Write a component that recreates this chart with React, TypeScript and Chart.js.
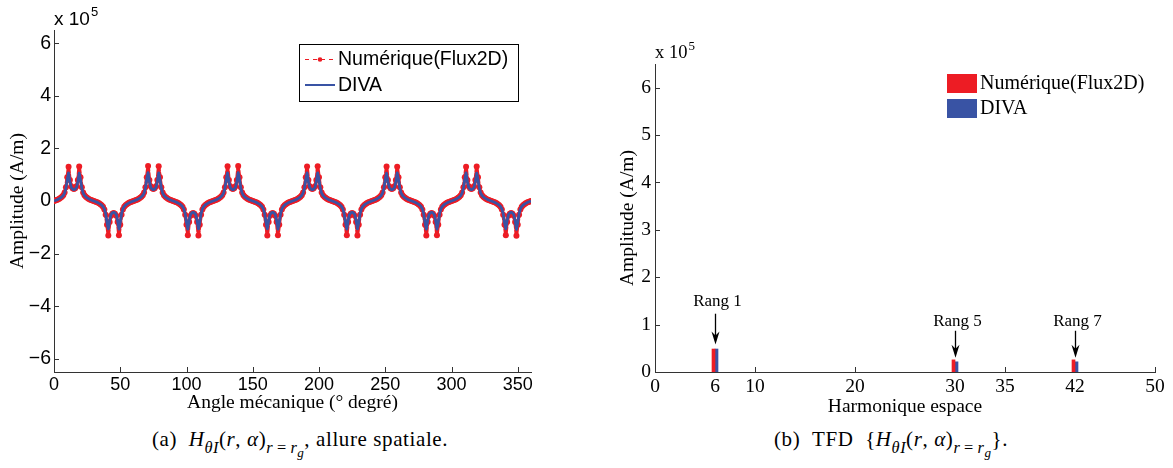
import React, { useEffect, useRef } from 'react';
import { Chart, registerables } from 'chart.js';

Chart.register(...registerables);

const RED = '#ED1C24';
const BLUE = '#3953A4';
const AXIS = '#333333';
const SANS = '"Liberation Sans", Arial, Helvetica, sans-serif';
const SERIF = '"Liberation Serif", "Times New Roman", Times, serif';

// ---------- (a) spatial waveform, amplitude in units of 1e5 A/m ----------
const angleDeg = Array.from({ length: 361 }, (_, i) => i);

const flux2dSpatial = [
  0.00, 0.02, 0.04, 0.06, 0.09, 0.12, 0.16, 0.22, 0.32, 0.52, 0.90, 1.30, 0.80, 0.56, 0.48, 0.46, 0.48, 0.56, 0.80, 1.31, 0.90, 0.52, 0.32, 0.22, 0.16, 0.12, 0.09, 0.06, 0.04, 0.02,
  0.00, -0.02, -0.04, -0.06, -0.09, -0.12, -0.16, -0.22, -0.32, -0.52, -0.90, -1.31, -0.80, -0.56, -0.48, -0.46, -0.48, -0.56, -0.80, -1.30, -0.90, -0.52, -0.32, -0.22, -0.16, -0.12, -0.09, -0.06, -0.04, -0.02,
  0.00, 0.02, 0.04, 0.06, 0.09, 0.12, 0.16, 0.22, 0.32, 0.52, 0.90, 1.33, 0.80, 0.56, 0.48, 0.46, 0.48, 0.56, 0.80, 1.32, 0.90, 0.52, 0.32, 0.22, 0.16, 0.12, 0.09, 0.06, 0.04, 0.02,
  0.00, -0.02, -0.04, -0.06, -0.09, -0.12, -0.16, -0.22, -0.32, -0.52, -0.90, -1.30, -0.80, -0.56, -0.48, -0.46, -0.48, -0.56, -0.80, -1.31, -0.90, -0.52, -0.32, -0.22, -0.16, -0.12, -0.09, -0.06, -0.04, -0.02,
  0.00, 0.02, 0.04, 0.06, 0.09, 0.12, 0.16, 0.22, 0.32, 0.52, 0.90, 1.32, 0.80, 0.56, 0.48, 0.46, 0.48, 0.56, 0.80, 1.33, 0.90, 0.52, 0.32, 0.22, 0.16, 0.12, 0.09, 0.06, 0.04, 0.02,
  0.00, -0.02, -0.04, -0.06, -0.09, -0.12, -0.16, -0.22, -0.32, -0.52, -0.90, -1.31, -0.80, -0.56, -0.48, -0.46, -0.48, -0.56, -0.80, -1.30, -0.90, -0.52, -0.32, -0.22, -0.16, -0.12, -0.09, -0.06, -0.04, -0.02,
  0.00, 0.02, 0.04, 0.06, 0.09, 0.12, 0.16, 0.22, 0.32, 0.52, 0.90, 1.31, 0.80, 0.56, 0.48, 0.46, 0.48, 0.56, 0.80, 1.32, 0.90, 0.52, 0.32, 0.22, 0.16, 0.12, 0.09, 0.06, 0.04, 0.02,
  0.00, -0.02, -0.04, -0.06, -0.09, -0.12, -0.16, -0.22, -0.32, -0.52, -0.90, -1.30, -0.80, -0.56, -0.48, -0.46, -0.48, -0.56, -0.80, -1.31, -0.90, -0.52, -0.32, -0.22, -0.16, -0.12, -0.09, -0.06, -0.04, -0.02,
  0.00, 0.02, 0.04, 0.06, 0.09, 0.12, 0.16, 0.22, 0.32, 0.52, 0.90, 1.31, 0.80, 0.56, 0.48, 0.46, 0.48, 0.56, 0.80, 1.30, 0.90, 0.52, 0.32, 0.22, 0.16, 0.12, 0.09, 0.06, 0.04, 0.02,
  0.00, -0.02, -0.04, -0.06, -0.09, -0.12, -0.16, -0.22, -0.32, -0.52, -0.90, -1.31, -0.80, -0.56, -0.48, -0.46, -0.48, -0.56, -0.80, -1.30, -0.90, -0.52, -0.32, -0.22, -0.16, -0.12, -0.09, -0.06, -0.04, -0.02,
  0.00, 0.02, 0.04, 0.06, 0.09, 0.12, 0.16, 0.22, 0.32, 0.52, 0.90, 1.30, 0.80, 0.56, 0.48, 0.46, 0.48, 0.56, 0.80, 1.31, 0.90, 0.52, 0.32, 0.22, 0.16, 0.12, 0.09, 0.06, 0.04, 0.02,
  0.00, -0.02, -0.04, -0.06, -0.09, -0.12, -0.16, -0.22, -0.32, -0.52, -0.90, -1.30, -0.80, -0.56, -0.48, -0.46, -0.48, -0.56, -0.80, -1.32, -0.90, -0.52, -0.32, -0.22, -0.16, -0.12, -0.09, -0.06, -0.04, -0.02,
  0.00,
];

const divaSpatial = [
  0.00, 0.02, 0.04, 0.06, 0.09, 0.12, 0.16, 0.21, 0.30, 0.48, 0.82, 1.07, 0.74, 0.52, 0.45, 0.43, 0.45, 0.52, 0.74, 1.06, 0.82, 0.48, 0.30, 0.21, 0.16, 0.12, 0.09, 0.06, 0.04, 0.02,
  0.00, -0.02, -0.04, -0.06, -0.09, -0.12, -0.16, -0.21, -0.30, -0.48, -0.82, -1.06, -0.74, -0.52, -0.45, -0.43, -0.45, -0.52, -0.74, -1.07, -0.82, -0.48, -0.30, -0.21, -0.16, -0.12, -0.09, -0.06, -0.04, -0.02,
  0.00, 0.02, 0.04, 0.06, 0.09, 0.12, 0.16, 0.21, 0.30, 0.48, 0.82, 1.08, 0.74, 0.52, 0.45, 0.43, 0.45, 0.52, 0.74, 1.07, 0.82, 0.48, 0.30, 0.21, 0.16, 0.12, 0.09, 0.06, 0.04, 0.02,
  0.00, -0.02, -0.04, -0.06, -0.09, -0.12, -0.16, -0.21, -0.30, -0.48, -0.82, -1.07, -0.74, -0.52, -0.45, -0.43, -0.45, -0.52, -0.74, -1.06, -0.82, -0.48, -0.30, -0.21, -0.16, -0.12, -0.09, -0.06, -0.04, -0.02,
  0.00, 0.02, 0.04, 0.06, 0.09, 0.12, 0.16, 0.21, 0.30, 0.48, 0.82, 1.07, 0.74, 0.52, 0.45, 0.43, 0.45, 0.52, 0.74, 1.08, 0.82, 0.48, 0.30, 0.21, 0.16, 0.12, 0.09, 0.06, 0.04, 0.02,
  0.00, -0.02, -0.04, -0.06, -0.09, -0.12, -0.16, -0.21, -0.30, -0.48, -0.82, -1.06, -0.74, -0.52, -0.45, -0.43, -0.45, -0.52, -0.74, -1.07, -0.82, -0.48, -0.30, -0.21, -0.16, -0.12, -0.09, -0.06, -0.04, -0.02,
  0.00, 0.02, 0.04, 0.06, 0.09, 0.12, 0.16, 0.21, 0.30, 0.48, 0.82, 1.07, 0.74, 0.52, 0.45, 0.43, 0.45, 0.52, 0.74, 1.07, 0.82, 0.48, 0.30, 0.21, 0.16, 0.12, 0.09, 0.06, 0.04, 0.02,
  0.00, -0.02, -0.04, -0.06, -0.09, -0.12, -0.16, -0.21, -0.30, -0.48, -0.82, -1.07, -0.74, -0.52, -0.45, -0.43, -0.45, -0.52, -0.74, -1.06, -0.82, -0.48, -0.30, -0.21, -0.16, -0.12, -0.09, -0.06, -0.04, -0.02,
  0.00, 0.02, 0.04, 0.06, 0.09, 0.12, 0.16, 0.21, 0.30, 0.48, 0.82, 1.06, 0.74, 0.52, 0.45, 0.43, 0.45, 0.52, 0.74, 1.07, 0.82, 0.48, 0.30, 0.21, 0.16, 0.12, 0.09, 0.06, 0.04, 0.02,
  0.00, -0.02, -0.04, -0.06, -0.09, -0.12, -0.16, -0.21, -0.30, -0.48, -0.82, -1.07, -0.74, -0.52, -0.45, -0.43, -0.45, -0.52, -0.74, -1.07, -0.82, -0.48, -0.30, -0.21, -0.16, -0.12, -0.09, -0.06, -0.04, -0.02,
  0.00, 0.02, 0.04, 0.06, 0.09, 0.12, 0.16, 0.21, 0.30, 0.48, 0.82, 1.07, 0.74, 0.52, 0.45, 0.43, 0.45, 0.52, 0.74, 1.06, 0.82, 0.48, 0.30, 0.21, 0.16, 0.12, 0.09, 0.06, 0.04, 0.02,
  0.00, -0.02, -0.04, -0.06, -0.09, -0.12, -0.16, -0.21, -0.30, -0.48, -0.82, -1.06, -0.74, -0.52, -0.45, -0.43, -0.45, -0.52, -0.74, -1.08, -0.82, -0.48, -0.30, -0.21, -0.16, -0.12, -0.09, -0.06, -0.04, -0.02,
  0.00,
];

const angleTicks = [0, 50, 100, 150, 200, 250, 300, 350];
const amplitudeTicksA = [-6, -4, -2, 0, 2, 4, 6];

// ---------- (b) DFT spectrum, amplitude in units of 1e5 A/m ----------
const harmonics = [6, 30, 42];
const flux2dDft = [0.485, 0.256, 0.256];
const divaDft = [0.485, 0.215, 0.215];
const harmonicTicks = [0, 6, 10, 20, 30, 35, 42, 50];
const amplitudeTicksB = [0, 1, 2, 3, 4, 5, 6];
const rangLabels = ['Rang 1', 'Rang 5', 'Rang 7'];
const rangTextLevel = [1.48, 1.06, 1.06];
const rangArrowFrom = [1.23, 0.87, 0.87];
const rangArrowTo = [0.58, 0.3, 0.3];

const seriesNames = ['Numérique(Flux2D)', 'DIVA'];

function fmtMinus(v: number): string {
  return v < 0 ? '\u2212' + Math.abs(v) : String(v);
}

function drawInwardTicks(chart: any, xTicks: number[], yTicks: number[], len: number) {
  const { ctx, chartArea, scales } = chart;
  ctx.save();
  ctx.strokeStyle = AXIS;
  ctx.lineWidth = 1;
  ctx.beginPath();
  for (const v of yTicks) {
    const y = Math.round(scales.y.getPixelForValue(v)) + 0.5;
    ctx.moveTo(chartArea.left, y);
    ctx.lineTo(chartArea.left + len, y);
  }
  for (const v of xTicks) {
    const x = Math.round(scales.x.getPixelForValue(v)) + 0.5;
    ctx.moveTo(x, chartArea.bottom);
    ctx.lineTo(x, chartArea.bottom - len);
  }
  ctx.stroke();
  ctx.restore();
}

function drawExponent(ctx: CanvasRenderingContext2D, x: number, y: number, family: string, size: number) {
  ctx.save();
  ctx.fillStyle = '#000';
  ctx.textBaseline = 'alphabetic';
  ctx.textAlign = 'left';
  ctx.font = `${size}px ${family}`;
  ctx.fillText('x 10', x, y);
  const w = ctx.measureText('x 10').width;
  ctx.font = `${Math.round(size * 0.68)}px ${family}`;
  ctx.fillText('5', x + w + 1, y - size * 0.45);
  ctx.restore();
}

function axisScale(extra: any) {
  return {
    border: { display: true, color: AXIS, width: 1 },
    grid: { display: false, drawTicks: false },
    ...extra,
  };
}

function SpatialChart() {
  const ref = useRef<HTMLCanvasElement | null>(null);
  useEffect(() => {
    if (!ref.current) return;
    const plugin = {
      id: 'decorA',
      beforeDatasetsDraw(chart: any) {
        drawInwardTicks(chart, angleTicks, amplitudeTicksA, 5);
      },
      afterDraw(chart: any) {
        const { ctx, chartArea } = chart;
        drawExponent(ctx, chartArea.left, chartArea.top - 5, SANS, 19);
        // legend box
        const bx = chartArea.left + 245;
        const by = chartArea.top + 14;
        ctx.save();
        ctx.fillStyle = '#fff';
        ctx.fillRect(bx, by, 219, 57);
        ctx.strokeStyle = '#000';
        ctx.lineWidth = 1;
        ctx.strokeRect(bx + 0.5, by + 0.5, 219, 57);
        // red sample
        ctx.strokeStyle = RED;
        ctx.lineWidth = 1;
        ctx.setLineDash([4, 4]);
        ctx.beginPath();
        ctx.moveTo(bx + 6, by + 15.5);
        ctx.lineTo(bx + 36, by + 15.5);
        ctx.stroke();
        ctx.setLineDash([]);
        ctx.fillStyle = RED;
        ctx.beginPath();
        ctx.arc(bx + 21, by + 15.5, 2.3, 0, Math.PI * 2);
        ctx.fill();
        // blue sample
        ctx.strokeStyle = BLUE;
        ctx.lineWidth = 2;
        ctx.beginPath();
        ctx.moveTo(bx + 6, by + 41);
        ctx.lineTo(bx + 36, by + 41);
        ctx.stroke();
        ctx.fillStyle = '#000';
        ctx.font = `19.5px ${SANS}`;
        ctx.textBaseline = 'middle';
        ctx.textAlign = 'left';
        ctx.fillText(seriesNames[0], bx + 39, by + 16);
        ctx.fillText(seriesNames[1], bx + 39, by + 42);
        ctx.restore();
      },
    };
    const chart = new Chart(ref.current, {
      type: 'line',
      data: {
        datasets: [
          {
            label: seriesNames[1],
            data: angleDeg.map((a, i) => ({ x: a, y: divaSpatial[i] })),
            borderColor: BLUE,
            backgroundColor: BLUE,
            borderWidth: 2.8,
            borderJoinStyle: 'round',
            pointRadius: 0,
            tension: 0,
            order: 0,
          },
          {
            label: seriesNames[0],
            data: angleDeg.map((a, i) => ({ x: a, y: flux2dSpatial[i] })),
            borderColor: RED,
            backgroundColor: RED,
            borderWidth: 3.5,
            borderDash: [6, 2],
            borderJoinStyle: 'round',
            borderCapStyle: 'round',
            pointRadius: 3,
            pointBorderWidth: 0,
            pointBackgroundColor: RED,
            tension: 0,
            order: 1,
          },
        ],
      },
      options: {
        responsive: false,
        animation: false,
        devicePixelRatio: 1,
        events: [],
        layout: { padding: { left: 0, top: 30, right: 29, bottom: 0 } },
        plugins: { legend: { display: false }, tooltip: { enabled: false } },
        scales: {
          x: axisScale({
            type: 'linear',
            min: 0,
            max: 360,
            afterBuildTicks: (s: any) => {
              s.ticks = angleTicks.map((v) => ({ value: v }));
            },
            afterFit: (s: any) => {
              s.height = 48;
            },
            ticks: { color: '#000', font: { family: SANS, size: 18 }, padding: 2, autoSkip: false, maxRotation: 0 },
            title: {
              display: true,
              text: 'Angle mécanique (° degré)',
              color: '#000',
              font: { family: SERIF, size: 19.5 },
              padding: { top: 0, bottom: 5 },
            },
          }),
          y: axisScale({
            type: 'linear',
            min: -6.5,
            max: 6.5,
            afterBuildTicks: (s: any) => {
              s.ticks = amplitudeTicksA.map((v) => ({ value: v }));
            },
            afterFit: (s: any) => {
              s.width = 54;
            },
            ticks: {
              color: '#000',
              font: { family: SANS, size: 19.5 },
              padding: 3,
              callback: (v: any) => fmtMinus(Number(v)),
            },
            title: {
              display: true,
              text: 'Amplitude (A/m)',
              color: '#000',
              font: { family: SERIF, size: 19.5 },
              padding: { top: 6, bottom: 0 },
            },
          }),
        },
      },
      plugins: [plugin],
    });
    return () => chart.destroy();
  }, []);
  return (
    <canvas
      ref={ref}
      width={560}
      height={420}
      style={{ position: 'absolute', left: 0, top: 0, width: 560, height: 420 }}
    />
  );
}

function SpectrumChart() {
  const ref = useRef<HTMLCanvasElement | null>(null);
  useEffect(() => {
    if (!ref.current) return;
    const plugin = {
      id: 'decorB',
      beforeDatasetsDraw(chart: any) {
        drawInwardTicks(chart, harmonicTicks, amplitudeTicksB, 5);
      },
      afterDraw(chart: any) {
        const { ctx, chartArea, scales } = chart;
        drawExponent(ctx, chartArea.left, chartArea.top - 6, SERIF, 18.5);
        ctx.save();
        // legend
        const lx = chartArea.left + 292;
        const ly = chartArea.top + 10;
        ctx.fillStyle = RED;
        ctx.fillRect(lx, ly, 30, 19);
        ctx.fillStyle = BLUE;
        ctx.fillRect(lx, ly + 25, 30, 19);
        ctx.fillStyle = '#000';
        ctx.font = `20px ${SERIF}`;
        ctx.textBaseline = 'middle';
        ctx.textAlign = 'left';
        ctx.fillText(seriesNames[0], lx + 33, ly + 10);
        ctx.fillText(seriesNames[1], lx + 33, ly + 35);
        // annotations
        ctx.strokeStyle = '#000';
        ctx.lineWidth = 1.3;
        ctx.font = `17px ${SERIF}`;
        ctx.textAlign = 'center';
        for (let i = 0; i < harmonics.length; i++) {
          const x = Math.round(scales.x.getPixelForValue(harmonics[i])) + 0.5;
          const yt = scales.y.getPixelForValue(rangTextLevel[i]);
          const y0 = scales.y.getPixelForValue(rangArrowFrom[i]);
          const y1 = scales.y.getPixelForValue(rangArrowTo[i]);
          ctx.fillStyle = '#000';
          ctx.fillText(rangLabels[i], x + 2, yt);
          ctx.beginPath();
          ctx.moveTo(x, y0);
          ctx.lineTo(x, y1 - 4);
          ctx.stroke();
          ctx.beginPath();
          ctx.moveTo(x, y1);
          ctx.lineTo(x - 4, y1 - 13);
          ctx.lineTo(x, y1 - 9);
          ctx.lineTo(x + 4, y1 - 13);
          ctx.closePath();
          ctx.fill();
        }
        ctx.restore();
      },
    };
    const chart = new Chart(ref.current, {
      type: 'bar',
      data: {
        datasets: [
          {
            label: seriesNames[0],
            data: harmonics.map((h, i) => ({ x: h, y: flux2dDft[i] })),
            backgroundColor: RED,
            barThickness: 3,
          },
          {
            label: seriesNames[1],
            data: harmonics.map((h, i) => ({ x: h, y: divaDft[i] })),
            backgroundColor: BLUE,
            barThickness: 3,
          },
        ],
      },
      options: {
        responsive: false,
        animation: false,
        devicePixelRatio: 1,
        events: [],
        layout: { padding: { left: 0, top: 64, right: 18, bottom: 0 } },
        plugins: { legend: { display: false }, tooltip: { enabled: false } },
        scales: {
          x: axisScale({
            type: 'linear',
            min: 0,
            max: 50,
            offset: false,
            grid: { display: false, drawTicks: false, offset: false },
            afterBuildTicks: (s: any) => {
              s.ticks = harmonicTicks.map((v) => ({ value: v }));
            },
            afterFit: (s: any) => {
              s.height = 48;
            },
            ticks: { color: '#000', font: { family: SERIF, size: 19.5 }, padding: 3, autoSkip: false, maxRotation: 0 },
            title: {
              display: true,
              text: 'Harmonique espace',
              color: '#000',
              font: { family: SERIF, size: 19.5 },
              padding: { top: 0, bottom: 1 },
            },
          }),
          y: axisScale({
            type: 'linear',
            min: 0,
            max: 6.5,
            afterBuildTicks: (s: any) => {
              s.ticks = amplitudeTicksB.map((v) => ({ value: v }));
            },
            afterFit: (s: any) => {
              s.width = 75;
            },
            ticks: { color: '#000', font: { family: SERIF, size: 19.5 }, padding: 4 },
            title: {
              display: true,
              text: 'Amplitude (A/m)',
              color: '#000',
              font: { family: SERIF, size: 19.5 },
              padding: { top: 36, bottom: 0 },
            },
          }),
        },
      },
      plugins: [plugin],
    });
    return () => chart.destroy();
  }, []);
  return (
    <canvas
      ref={ref}
      width={593}
      height={420}
      style={{ position: 'absolute', left: 580, top: 0, width: 593, height: 420 }}
    />
  );
}

const subStyle: React.CSSProperties = { fontSize: '78%', verticalAlign: '-0.4em', lineHeight: 0, letterSpacing: '0.5px' };
const subSubStyle: React.CSSProperties = { fontSize: '80%', verticalAlign: '-0.3em', lineHeight: 0 };

function Caption({ left, children }: { left: number; children: React.ReactNode }) {
  return (
    <div
      style={{
        position: 'absolute',
        left,
        top: 426,
        transform: 'translateX(-50%)',
        fontFamily: SERIF,
        fontSize: 21,
        letterSpacing: '0.6px',
        lineHeight: '26px',
        whiteSpace: 'nowrap',
        color: '#000',
      }}
    >
      {children}
    </div>
  );
}

export default function App() {
  return (
    <div style={{ position: 'absolute', left: 0, top: 0, width: 1173, height: 468, background: '#fff', overflow: 'hidden' }}>
      <SpatialChart />
      <SpectrumChart />
      <Caption left={300}>
        (a)&nbsp;&nbsp;<i>H</i>
        <span style={subStyle}>
          <i>θI</i>
        </span>
        (<i>r</i>,&nbsp;<i>α</i>)
        <span style={subStyle}>
          <i>r</i>&thinsp;=&thinsp;<i>r</i>
          <span style={subSubStyle}>
            <i>g</i>
          </span>
        </span>
        , allure spatiale.
      </Caption>
      <Caption left={891}>
        (b)&nbsp;&nbsp;TFD&nbsp;&nbsp;{'{'}
        <i>H</i>
        <span style={subStyle}>
          <i>θI</i>
        </span>
        (<i>r</i>,&nbsp;<i>α</i>)
        <span style={subStyle}>
          <i>r</i>&thinsp;=&thinsp;<i>r</i>
          <span style={subSubStyle}>
            <i>g</i>
          </span>
        </span>
        {'}'}.
      </Caption>
    </div>
  );
}
